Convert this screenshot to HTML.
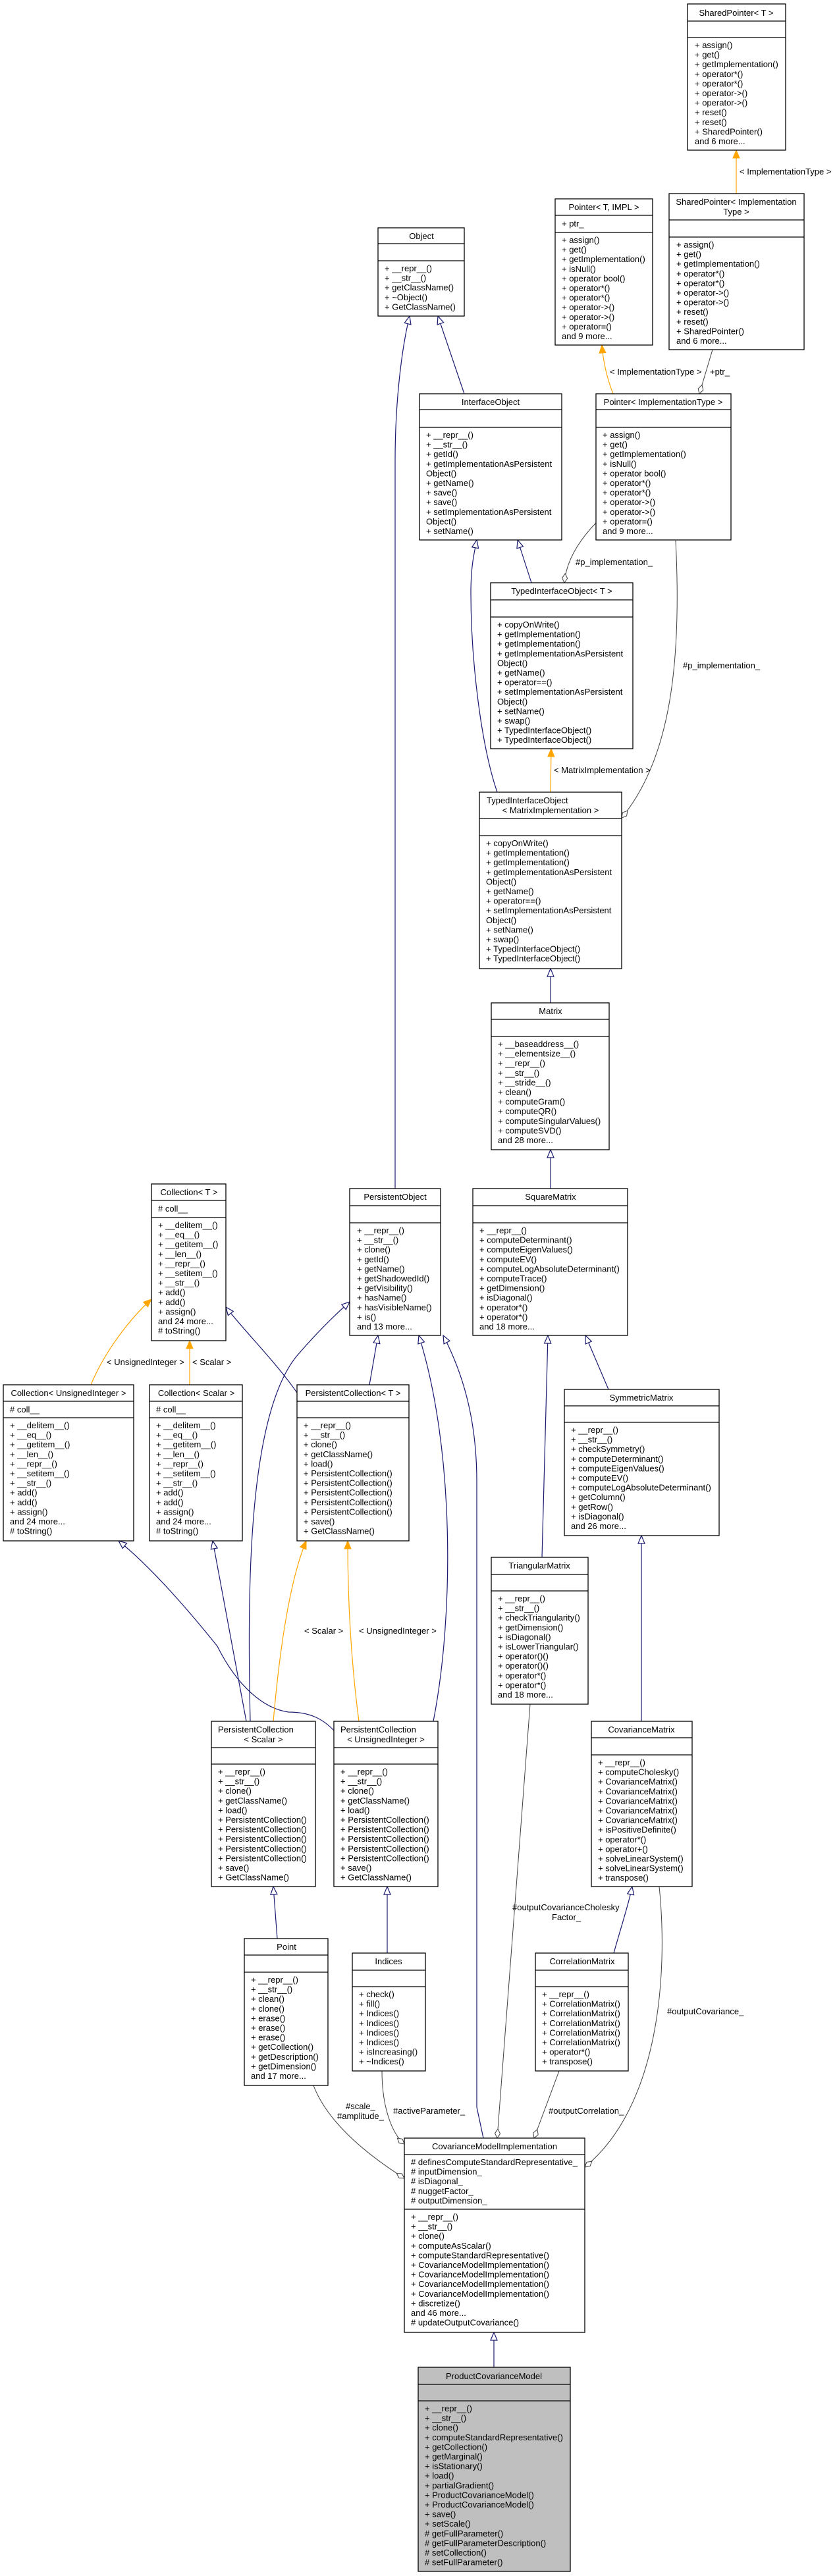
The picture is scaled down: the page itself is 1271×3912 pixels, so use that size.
<!DOCTYPE html>
<html><head><meta charset="utf-8"><style>
html,body{margin:0;padding:0;background:#fff;}
svg{display:block;}
text{font-family:"Liberation Sans",Arial,sans-serif;font-size:13px;fill:#000;}
.b{fill:#fff;stroke:#000;stroke-width:1.3;}
.g{fill:#bfbfbf;stroke:#000;stroke-width:1.3;}
.s{stroke:#000;stroke-width:1.3;}
.inh{fill:none;stroke:#191970;stroke-width:1.2;}
.tpl{fill:none;stroke:#ffa500;stroke-width:1.2;}
.asc{fill:none;stroke:#404040;stroke-width:1;}
.m{text-anchor:middle;}
</style></head><body>
<svg width="1271" height="3912" viewBox="0 0 1271 3912" xmlns="http://www.w3.org/2000/svg">
<defs>
<marker id="ti" markerUnits="userSpaceOnUse" markerWidth="14" markerHeight="12" refX="13" refY="6" orient="auto"><path d="M1,1 L13,6 L1,11 Z" fill="#fff" stroke="#191970" stroke-width="1.2"/></marker>
<marker id="to" markerUnits="userSpaceOnUse" markerWidth="14" markerHeight="12" refX="13" refY="6" orient="auto"><path d="M1,1 L13,6 L1,11 Z" fill="#ffa500" stroke="#ffa500" stroke-width="1"/></marker>
<marker id="di" markerUnits="userSpaceOnUse" markerWidth="16" markerHeight="10" refX="15" refY="5" orient="auto"><path d="M1,5 L8,1 L15,5 L8,9 Z" fill="#fff" stroke="#404040" stroke-width="1"/></marker>
</defs>

<!-- connectors: inheritance -->
<path class="inh" marker-end="url(#ti)" d="M705,598 L665,480"/>
<path class="inh" marker-end="url(#ti)" d="M600,1805 L600,700 C600,600 612,520 622,480"/>
<path class="inh" marker-end="url(#ti)" d="M807,885 L786,820"/>
<path class="inh" marker-end="url(#ti)" d="M755,1203 C730,1130 715,1000 715,900 C715,860 720,840 724,820"/>
<path class="inh" marker-end="url(#ti)" d="M836,1523 L836,1471"/>
<path class="inh" marker-end="url(#ti)" d="M836,1805 L836,1746"/>
<path class="inh" marker-end="url(#ti)" d="M823,2365 L832,2028"/>
<path class="inh" marker-end="url(#ti)" d="M924,2110 L889,2028"/>
<path class="inh" marker-end="url(#ti)" d="M974,2614 L974,2332"/>
<path class="inh" marker-end="url(#ti)" d="M932,2966 C945,2920 955,2890 960,2865"/>
<path class="inh" marker-end="url(#ti)" d="M451,2115 C420,2070 370,2020 343,1985"/>
<path class="inh" marker-end="url(#ti)" d="M561,2103 L574,2028"/>
<path class="inh" marker-end="url(#ti)" d="M380,2614 C375,2400 378,2150 450,2060 C480,2025 505,2000 531,1977"/>
<path class="inh" marker-end="url(#ti)" d="M374,2614 L323,2340"/>
<path class="inh" marker-end="url(#ti)" d="M507,2628 C490,2610 470,2600 438,2600 C400,2595 360,2560 330,2500 C290,2450 230,2380 180,2340"/>
<path class="inh" marker-end="url(#ti)" d="M658,2614 C690,2450 690,2200 636,2028"/>
<path class="inh" marker-end="url(#ti)" d="M734,3247 L724,3200 L724,2250 C724,2150 700,2080 673,2028"/>
<path class="inh" marker-end="url(#ti)" d="M421,2944 L415,2865"/>
<path class="inh" marker-end="url(#ti)" d="M588,2966 L588,2865"/>
<path class="inh" marker-end="url(#ti)" d="M750,3595 L750,3542"/>

<!-- connectors: template -->
<path class="tpl" marker-end="url(#to)" d="M1118,294 L1118,228"/>
<path class="tpl" marker-end="url(#to)" d="M931,598 C922,575 916,550 914,524"/>
<path class="tpl" marker-end="url(#to)" d="M836,1203 L837,1137"/>
<path class="tpl" marker-end="url(#to)" d="M138,2103 C160,2050 200,2000 230,1973"/>
<path class="tpl" marker-end="url(#to)" d="M288,2103 L288,2036"/>
<path class="tpl" marker-end="url(#to)" d="M415,2614 C425,2500 440,2400 465,2340"/>
<path class="tpl" marker-end="url(#to)" d="M545,2614 C530,2500 528,2400 528,2340"/>

<!-- connectors: association -->
<path class="asc" marker-end="url(#di)" d="M1082,531 L1062,598"/>
<path class="asc" marker-end="url(#di)" d="M905,794 C880,820 860,850 857,885"/>
<path class="asc" marker-end="url(#di)" d="M1026,821 C1035,1000 1020,1150 944,1242"/>
<path class="asc" marker-end="url(#di)" d="M805,2588 L755,3247"/>
<path class="asc" marker-end="url(#di)" d="M1001,2865 C1015,3000 1000,3200 888,3291"/>
<path class="asc" marker-end="url(#di)" d="M849,3145 L811,3247"/>
<path class="asc" marker-end="url(#di)" d="M580,3145 C580,3200 595,3240 614,3256"/>
<path class="asc" marker-end="url(#di)" d="M476,3167 C500,3230 570,3280 614,3308"/>

<!-- edge labels -->
<text x="1123" y="265">&lt; ImplementationType &gt;</text>
<text x="926" y="569">&lt; ImplementationType &gt;</text>
<text x="1078" y="569">+ptr_</text>
<text x="874" y="858">#p_implementation_</text>
<text x="1037" y="1015">#p_implementation_</text>
<text x="841" y="1174">&lt; MatrixImplementation &gt;</text>
<text x="162" y="2073">&lt; UnsignedInteger &gt;</text>
<text x="292" y="2073">&lt; Scalar &gt;</text>
<text x="462" y="2481">&lt; Scalar &gt;</text>
<text x="545" y="2481">&lt; UnsignedInteger &gt;</text>
<text x="778" y="2901">#outputCovarianceCholesky</text>
<text x="838" y="2916">Factor_</text>
<text x="1013" y="3059">#outputCovariance_</text>
<text x="833" y="3210">#outputCorrelation_</text>
<text x="597" y="3210">#activeParameter_</text>
<text x="525" y="3203">#scale_</text>
<text x="512" y="3218">#amplitude_</text>

<!-- SharedPointer<T> -->
<rect class="b" x="1044" y="6" width="149" height="222"/>
<line class="s" x1="1044" y1="32" x2="1193" y2="32"/><line class="s" x1="1044" y1="57" x2="1193" y2="57"/>
<text class="m" x="1118" y="24">SharedPointer&lt; T &gt;</text>
<text x="1055" y="73"><tspan x="1055">+ assign()</tspan><tspan x="1055" dy="14.6">+ get()</tspan><tspan x="1055" dy="14.6">+ getImplementation()</tspan><tspan x="1055" dy="14.6">+ operator*()</tspan><tspan x="1055" dy="14.6">+ operator*()</tspan><tspan x="1055" dy="14.6">+ operator-&gt;()</tspan><tspan x="1055" dy="14.6">+ operator-&gt;()</tspan><tspan x="1055" dy="14.6">+ reset()</tspan><tspan x="1055" dy="14.6">+ reset()</tspan><tspan x="1055" dy="14.6">+ SharedPointer()</tspan><tspan x="1055" dy="14.6">and 6 more...</tspan></text>

<!-- SharedPointer<ImplementationType> -->
<rect class="b" x="1016" y="294" width="205" height="237"/>
<line class="s" x1="1016" y1="334" x2="1221" y2="334"/><line class="s" x1="1016" y1="360" x2="1221" y2="360"/>
<text class="m" x="1118" y="311">SharedPointer&lt; Implementation</text>
<text class="m" x="1118" y="326">Type &gt;</text>
<text x="1027" y="376"><tspan x="1027">+ assign()</tspan><tspan x="1027" dy="14.6">+ get()</tspan><tspan x="1027" dy="14.6">+ getImplementation()</tspan><tspan x="1027" dy="14.6">+ operator*()</tspan><tspan x="1027" dy="14.6">+ operator*()</tspan><tspan x="1027" dy="14.6">+ operator-&gt;()</tspan><tspan x="1027" dy="14.6">+ operator-&gt;()</tspan><tspan x="1027" dy="14.6">+ reset()</tspan><tspan x="1027" dy="14.6">+ reset()</tspan><tspan x="1027" dy="14.6">+ SharedPointer()</tspan><tspan x="1027" dy="14.6">and 6 more...</tspan></text>

<!-- Pointer<T, IMPL> -->
<rect class="b" x="843" y="302" width="148" height="222"/>
<line class="s" x1="843" y1="327" x2="991" y2="327"/><line class="s" x1="843" y1="353" x2="991" y2="353"/>
<text class="m" x="917" y="319">Pointer&lt; T, IMPL &gt;</text>
<text x="853" y="344">+ ptr_</text>
<text x="853" y="369"><tspan x="853">+ assign()</tspan><tspan x="853" dy="14.6">+ get()</tspan><tspan x="853" dy="14.6">+ getImplementation()</tspan><tspan x="853" dy="14.6">+ isNull()</tspan><tspan x="853" dy="14.6">+ operator bool()</tspan><tspan x="853" dy="14.6">+ operator*()</tspan><tspan x="853" dy="14.6">+ operator*()</tspan><tspan x="853" dy="14.6">+ operator-&gt;()</tspan><tspan x="853" dy="14.6">+ operator-&gt;()</tspan><tspan x="853" dy="14.6">+ operator=()</tspan><tspan x="853" dy="14.6">and 9 more...</tspan></text>

<!-- Object -->
<rect class="b" x="574" y="346" width="131" height="134"/>
<line class="s" x1="574" y1="370" x2="705" y2="370"/><line class="s" x1="574" y1="396" x2="705" y2="396"/>
<text class="m" x="640" y="363">Object</text>
<text x="584" y="412"><tspan x="584">+ __repr__()</tspan><tspan x="584" dy="14.6">+ __str__()</tspan><tspan x="584" dy="14.6">+ getClassName()</tspan><tspan x="584" dy="14.6">+ ~Object()</tspan><tspan x="584" dy="14.6">+ GetClassName()</tspan></text>

<!-- InterfaceObject -->
<rect class="b" x="637" y="598" width="216" height="222"/>
<line class="s" x1="637" y1="622" x2="853" y2="622"/><line class="s" x1="637" y1="649" x2="853" y2="649"/>
<text class="m" x="745" y="615">InterfaceObject</text>
<text x="647" y="665"><tspan x="647">+ __repr__()</tspan><tspan x="647" dy="14.6">+ __str__()</tspan><tspan x="647" dy="14.6">+ getId()</tspan><tspan x="647" dy="14.6">+ getImplementationAsPersistent</tspan><tspan x="647" dy="14.6">Object()</tspan><tspan x="647" dy="14.6">+ getName()</tspan><tspan x="647" dy="14.6">+ save()</tspan><tspan x="647" dy="14.6">+ save()</tspan><tspan x="647" dy="14.6">+ setImplementationAsPersistent</tspan><tspan x="647" dy="14.6">Object()</tspan><tspan x="647" dy="14.6">+ setName()</tspan></text>

<!-- Pointer<ImplementationType> -->
<rect class="b" x="905" y="598" width="205" height="222"/>
<line class="s" x1="905" y1="622" x2="1110" y2="622"/><line class="s" x1="905" y1="649" x2="1110" y2="649"/>
<text class="m" x="1007" y="615">Pointer&lt; ImplementationType &gt;</text>
<text x="915" y="665"><tspan x="915">+ assign()</tspan><tspan x="915" dy="14.6">+ get()</tspan><tspan x="915" dy="14.6">+ getImplementation()</tspan><tspan x="915" dy="14.6">+ isNull()</tspan><tspan x="915" dy="14.6">+ operator bool()</tspan><tspan x="915" dy="14.6">+ operator*()</tspan><tspan x="915" dy="14.6">+ operator*()</tspan><tspan x="915" dy="14.6">+ operator-&gt;()</tspan><tspan x="915" dy="14.6">+ operator-&gt;()</tspan><tspan x="915" dy="14.6">+ operator=()</tspan><tspan x="915" dy="14.6">and 9 more...</tspan></text>

<!-- TypedInterfaceObject<T> -->
<rect class="b" x="745" y="885" width="216" height="252"/>
<line class="s" x1="745" y1="911" x2="961" y2="911"/><line class="s" x1="745" y1="937" x2="961" y2="937"/>
<text class="m" x="853" y="902">TypedInterfaceObject&lt; T &gt;</text>
<text x="755" y="953"><tspan x="755">+ copyOnWrite()</tspan><tspan x="755" dy="14.6">+ getImplementation()</tspan><tspan x="755" dy="14.6">+ getImplementation()</tspan><tspan x="755" dy="14.6">+ getImplementationAsPersistent</tspan><tspan x="755" dy="14.6">Object()</tspan><tspan x="755" dy="14.6">+ getName()</tspan><tspan x="755" dy="14.6">+ operator==()</tspan><tspan x="755" dy="14.6">+ setImplementationAsPersistent</tspan><tspan x="755" dy="14.6">Object()</tspan><tspan x="755" dy="14.6">+ setName()</tspan><tspan x="755" dy="14.6">+ swap()</tspan><tspan x="755" dy="14.6">+ TypedInterfaceObject()</tspan><tspan x="755" dy="14.6">+ TypedInterfaceObject()</tspan></text>

<!-- TypedInterfaceObject<MatrixImplementation> -->
<rect class="b" x="728" y="1203" width="216" height="268"/>
<line class="s" x1="728" y1="1243" x2="944" y2="1243"/><line class="s" x1="728" y1="1269" x2="944" y2="1269"/>
<text x="739" y="1220">TypedInterfaceObject</text>
<text class="m" x="836" y="1235">&lt; MatrixImplementation &gt;</text>
<text x="738" y="1285"><tspan x="738">+ copyOnWrite()</tspan><tspan x="738" dy="14.6">+ getImplementation()</tspan><tspan x="738" dy="14.6">+ getImplementation()</tspan><tspan x="738" dy="14.6">+ getImplementationAsPersistent</tspan><tspan x="738" dy="14.6">Object()</tspan><tspan x="738" dy="14.6">+ getName()</tspan><tspan x="738" dy="14.6">+ operator==()</tspan><tspan x="738" dy="14.6">+ setImplementationAsPersistent</tspan><tspan x="738" dy="14.6">Object()</tspan><tspan x="738" dy="14.6">+ setName()</tspan><tspan x="738" dy="14.6">+ swap()</tspan><tspan x="738" dy="14.6">+ TypedInterfaceObject()</tspan><tspan x="738" dy="14.6">+ TypedInterfaceObject()</tspan></text>

<!-- Matrix -->
<rect class="b" x="746" y="1523" width="179" height="223"/>
<line class="s" x1="746" y1="1548" x2="925" y2="1548"/><line class="s" x1="746" y1="1574" x2="925" y2="1574"/>
<text class="m" x="836" y="1540">Matrix</text>
<text x="756" y="1590"><tspan x="756">+ __baseaddress__()</tspan><tspan x="756" dy="14.6">+ __elementsize__()</tspan><tspan x="756" dy="14.6">+ __repr__()</tspan><tspan x="756" dy="14.6">+ __str__()</tspan><tspan x="756" dy="14.6">+ __stride__()</tspan><tspan x="756" dy="14.6">+ clean()</tspan><tspan x="756" dy="14.6">+ computeGram()</tspan><tspan x="756" dy="14.6">+ computeQR()</tspan><tspan x="756" dy="14.6">+ computeSingularValues()</tspan><tspan x="756" dy="14.6">+ computeSVD()</tspan><tspan x="756" dy="14.6">and 28 more...</tspan></text>

<!-- SquareMatrix -->
<rect class="b" x="718" y="1805" width="235" height="223"/>
<line class="s" x1="718" y1="1831" x2="953" y2="1831"/><line class="s" x1="718" y1="1857" x2="953" y2="1857"/>
<text class="m" x="836" y="1822">SquareMatrix</text>
<text x="728" y="1873"><tspan x="728">+ __repr__()</tspan><tspan x="728" dy="14.6">+ computeDeterminant()</tspan><tspan x="728" dy="14.6">+ computeEigenValues()</tspan><tspan x="728" dy="14.6">+ computeEV()</tspan><tspan x="728" dy="14.6">+ computeLogAbsoluteDeterminant()</tspan><tspan x="728" dy="14.6">+ computeTrace()</tspan><tspan x="728" dy="14.6">+ getDimension()</tspan><tspan x="728" dy="14.6">+ isDiagonal()</tspan><tspan x="728" dy="14.6">+ operator*()</tspan><tspan x="728" dy="14.6">+ operator*()</tspan><tspan x="728" dy="14.6">and 18 more...</tspan></text>

<!-- PersistentObject -->
<rect class="b" x="531" y="1805" width="138" height="223"/>
<line class="s" x1="531" y1="1831" x2="669" y2="1831"/><line class="s" x1="531" y1="1857" x2="669" y2="1857"/>
<text class="m" x="600" y="1822">PersistentObject</text>
<text x="542" y="1873"><tspan x="542">+ __repr__()</tspan><tspan x="542" dy="14.6">+ __str__()</tspan><tspan x="542" dy="14.6">+ clone()</tspan><tspan x="542" dy="14.6">+ getId()</tspan><tspan x="542" dy="14.6">+ getName()</tspan><tspan x="542" dy="14.6">+ getShadowedId()</tspan><tspan x="542" dy="14.6">+ getVisibility()</tspan><tspan x="542" dy="14.6">+ hasName()</tspan><tspan x="542" dy="14.6">+ hasVisibleName()</tspan><tspan x="542" dy="14.6">+ is()</tspan><tspan x="542" dy="14.6">and 13 more...</tspan></text>

<!-- Collection<T> -->
<rect class="b" x="230" y="1798" width="113" height="238"/>
<line class="s" x1="230" y1="1823" x2="343" y2="1823"/><line class="s" x1="230" y1="1849" x2="343" y2="1849"/>
<text class="m" x="287" y="1815">Collection&lt; T &gt;</text>
<text x="240" y="1840"># coll__</text>
<text x="240" y="1865"><tspan x="240">+ __delitem__()</tspan><tspan x="240" dy="14.6">+ __eq__()</tspan><tspan x="240" dy="14.6">+ __getitem__()</tspan><tspan x="240" dy="14.6">+ __len__()</tspan><tspan x="240" dy="14.6">+ __repr__()</tspan><tspan x="240" dy="14.6">+ __setitem__()</tspan><tspan x="240" dy="14.6">+ __str__()</tspan><tspan x="240" dy="14.6">+ add()</tspan><tspan x="240" dy="14.6">+ add()</tspan><tspan x="240" dy="14.6">+ assign()</tspan><tspan x="240" dy="14.6">and 24 more...</tspan><tspan x="240" dy="14.6"># toString()</tspan></text>

<!-- Collection<UnsignedInteger> -->
<rect class="b" x="5" y="2103" width="198" height="237"/>
<line class="s" x1="5" y1="2128" x2="203" y2="2128"/><line class="s" x1="5" y1="2153" x2="203" y2="2153"/>
<text class="m" x="104" y="2120">Collection&lt; UnsignedInteger &gt;</text>
<text x="15" y="2145"># coll__</text>
<text x="15" y="2169"><tspan x="15">+ __delitem__()</tspan><tspan x="15" dy="14.6">+ __eq__()</tspan><tspan x="15" dy="14.6">+ __getitem__()</tspan><tspan x="15" dy="14.6">+ __len__()</tspan><tspan x="15" dy="14.6">+ __repr__()</tspan><tspan x="15" dy="14.6">+ __setitem__()</tspan><tspan x="15" dy="14.6">+ __str__()</tspan><tspan x="15" dy="14.6">+ add()</tspan><tspan x="15" dy="14.6">+ add()</tspan><tspan x="15" dy="14.6">+ assign()</tspan><tspan x="15" dy="14.6">and 24 more...</tspan><tspan x="15" dy="14.6"># toString()</tspan></text>

<!-- Collection<Scalar> -->
<rect class="b" x="227" y="2103" width="141" height="237"/>
<line class="s" x1="227" y1="2128" x2="368" y2="2128"/><line class="s" x1="227" y1="2153" x2="368" y2="2153"/>
<text class="m" x="298" y="2120">Collection&lt; Scalar &gt;</text>
<text x="237" y="2145"># coll__</text>
<text x="237" y="2169"><tspan x="237">+ __delitem__()</tspan><tspan x="237" dy="14.6">+ __eq__()</tspan><tspan x="237" dy="14.6">+ __getitem__()</tspan><tspan x="237" dy="14.6">+ __len__()</tspan><tspan x="237" dy="14.6">+ __repr__()</tspan><tspan x="237" dy="14.6">+ __setitem__()</tspan><tspan x="237" dy="14.6">+ __str__()</tspan><tspan x="237" dy="14.6">+ add()</tspan><tspan x="237" dy="14.6">+ add()</tspan><tspan x="237" dy="14.6">+ assign()</tspan><tspan x="237" dy="14.6">and 24 more...</tspan><tspan x="237" dy="14.6"># toString()</tspan></text>

<!-- PersistentCollection<T> -->
<rect class="b" x="451" y="2103" width="170" height="237"/>
<line class="s" x1="451" y1="2128" x2="621" y2="2128"/><line class="s" x1="451" y1="2153" x2="621" y2="2153"/>
<text class="m" x="536" y="2120">PersistentCollection&lt; T &gt;</text>
<text x="461" y="2169"><tspan x="461">+ __repr__()</tspan><tspan x="461" dy="14.6">+ __str__()</tspan><tspan x="461" dy="14.6">+ clone()</tspan><tspan x="461" dy="14.6">+ getClassName()</tspan><tspan x="461" dy="14.6">+ load()</tspan><tspan x="461" dy="14.6">+ PersistentCollection()</tspan><tspan x="461" dy="14.6">+ PersistentCollection()</tspan><tspan x="461" dy="14.6">+ PersistentCollection()</tspan><tspan x="461" dy="14.6">+ PersistentCollection()</tspan><tspan x="461" dy="14.6">+ PersistentCollection()</tspan><tspan x="461" dy="14.6">+ save()</tspan><tspan x="461" dy="14.6">+ GetClassName()</tspan></text>

<!-- SymmetricMatrix -->
<rect class="b" x="857" y="2110" width="235" height="222"/>
<line class="s" x1="857" y1="2135" x2="1092" y2="2135"/><line class="s" x1="857" y1="2160" x2="1092" y2="2160"/>
<text class="m" x="974" y="2127">SymmetricMatrix</text>
<text x="867" y="2176"><tspan x="867">+ __repr__()</tspan><tspan x="867" dy="14.6">+ __str__()</tspan><tspan x="867" dy="14.6">+ checkSymmetry()</tspan><tspan x="867" dy="14.6">+ computeDeterminant()</tspan><tspan x="867" dy="14.6">+ computeEigenValues()</tspan><tspan x="867" dy="14.6">+ computeEV()</tspan><tspan x="867" dy="14.6">+ computeLogAbsoluteDeterminant()</tspan><tspan x="867" dy="14.6">+ getColumn()</tspan><tspan x="867" dy="14.6">+ getRow()</tspan><tspan x="867" dy="14.6">+ isDiagonal()</tspan><tspan x="867" dy="14.6">and 26 more...</tspan></text>

<!-- TriangularMatrix -->
<rect class="b" x="746" y="2365" width="147" height="223"/>
<line class="s" x1="746" y1="2391" x2="893" y2="2391"/><line class="s" x1="746" y1="2416" x2="893" y2="2416"/>
<text class="m" x="819" y="2382">TriangularMatrix</text>
<text x="756" y="2432"><tspan x="756">+ __repr__()</tspan><tspan x="756" dy="14.6">+ __str__()</tspan><tspan x="756" dy="14.6">+ checkTriangularity()</tspan><tspan x="756" dy="14.6">+ getDimension()</tspan><tspan x="756" dy="14.6">+ isDiagonal()</tspan><tspan x="756" dy="14.6">+ isLowerTriangular()</tspan><tspan x="756" dy="14.6">+ operator()()</tspan><tspan x="756" dy="14.6">+ operator()()</tspan><tspan x="756" dy="14.6">+ operator*()</tspan><tspan x="756" dy="14.6">+ operator*()</tspan><tspan x="756" dy="14.6">and 18 more...</tspan></text>

<!-- PersistentCollection<Scalar> -->
<rect class="b" x="321" y="2614" width="158" height="251"/>
<line class="s" x1="321" y1="2654" x2="479" y2="2654"/><line class="s" x1="321" y1="2679" x2="479" y2="2679"/>
<text x="331" y="2631">PersistentCollection</text>
<text class="m" x="400" y="2646">&lt; Scalar &gt;</text>
<text x="331" y="2695"><tspan x="331">+ __repr__()</tspan><tspan x="331" dy="14.6">+ __str__()</tspan><tspan x="331" dy="14.6">+ clone()</tspan><tspan x="331" dy="14.6">+ getClassName()</tspan><tspan x="331" dy="14.6">+ load()</tspan><tspan x="331" dy="14.6">+ PersistentCollection()</tspan><tspan x="331" dy="14.6">+ PersistentCollection()</tspan><tspan x="331" dy="14.6">+ PersistentCollection()</tspan><tspan x="331" dy="14.6">+ PersistentCollection()</tspan><tspan x="331" dy="14.6">+ PersistentCollection()</tspan><tspan x="331" dy="14.6">+ save()</tspan><tspan x="331" dy="14.6">+ GetClassName()</tspan></text>

<!-- PersistentCollection<UnsignedInteger> -->
<rect class="b" x="507" y="2614" width="158" height="251"/>
<line class="s" x1="507" y1="2654" x2="665" y2="2654"/><line class="s" x1="507" y1="2679" x2="665" y2="2679"/>
<text x="517" y="2631">PersistentCollection</text>
<text class="m" x="586" y="2646">&lt; UnsignedInteger &gt;</text>
<text x="517" y="2695"><tspan x="517">+ __repr__()</tspan><tspan x="517" dy="14.6">+ __str__()</tspan><tspan x="517" dy="14.6">+ clone()</tspan><tspan x="517" dy="14.6">+ getClassName()</tspan><tspan x="517" dy="14.6">+ load()</tspan><tspan x="517" dy="14.6">+ PersistentCollection()</tspan><tspan x="517" dy="14.6">+ PersistentCollection()</tspan><tspan x="517" dy="14.6">+ PersistentCollection()</tspan><tspan x="517" dy="14.6">+ PersistentCollection()</tspan><tspan x="517" dy="14.6">+ PersistentCollection()</tspan><tspan x="517" dy="14.6">+ save()</tspan><tspan x="517" dy="14.6">+ GetClassName()</tspan></text>

<!-- CovarianceMatrix -->
<rect class="b" x="898" y="2614" width="153" height="251"/>
<line class="s" x1="898" y1="2639" x2="1051" y2="2639"/><line class="s" x1="898" y1="2665" x2="1051" y2="2665"/>
<text class="m" x="974" y="2631">CovarianceMatrix</text>
<text x="908" y="2681"><tspan x="908">+ __repr__()</tspan><tspan x="908" dy="14.6">+ computeCholesky()</tspan><tspan x="908" dy="14.6">+ CovarianceMatrix()</tspan><tspan x="908" dy="14.6">+ CovarianceMatrix()</tspan><tspan x="908" dy="14.6">+ CovarianceMatrix()</tspan><tspan x="908" dy="14.6">+ CovarianceMatrix()</tspan><tspan x="908" dy="14.6">+ CovarianceMatrix()</tspan><tspan x="908" dy="14.6">+ isPositiveDefinite()</tspan><tspan x="908" dy="14.6">+ operator*()</tspan><tspan x="908" dy="14.6">+ operator+()</tspan><tspan x="908" dy="14.6">+ solveLinearSystem()</tspan><tspan x="908" dy="14.6">+ solveLinearSystem()</tspan><tspan x="908" dy="14.6">+ transpose()</tspan></text>

<!-- Point -->
<rect class="b" x="371" y="2944" width="127" height="223"/>
<line class="s" x1="371" y1="2969" x2="498" y2="2969"/><line class="s" x1="371" y1="2995" x2="498" y2="2995"/>
<text class="m" x="435" y="2961">Point</text>
<text x="381" y="3011"><tspan x="381">+ __repr__()</tspan><tspan x="381" dy="14.6">+ __str__()</tspan><tspan x="381" dy="14.6">+ clean()</tspan><tspan x="381" dy="14.6">+ clone()</tspan><tspan x="381" dy="14.6">+ erase()</tspan><tspan x="381" dy="14.6">+ erase()</tspan><tspan x="381" dy="14.6">+ erase()</tspan><tspan x="381" dy="14.6">+ getCollection()</tspan><tspan x="381" dy="14.6">+ getDescription()</tspan><tspan x="381" dy="14.6">+ getDimension()</tspan><tspan x="381" dy="14.6">and 17 more...</tspan></text>

<!-- Indices -->
<rect class="b" x="535" y="2966" width="111" height="179"/>
<line class="s" x1="535" y1="2992" x2="646" y2="2992"/><line class="s" x1="535" y1="3017" x2="646" y2="3017"/>
<text class="m" x="590" y="2983">Indices</text>
<text x="545" y="3033"><tspan x="545">+ check()</tspan><tspan x="545" dy="14.6">+ fill()</tspan><tspan x="545" dy="14.6">+ Indices()</tspan><tspan x="545" dy="14.6">+ Indices()</tspan><tspan x="545" dy="14.6">+ Indices()</tspan><tspan x="545" dy="14.6">+ Indices()</tspan><tspan x="545" dy="14.6">+ isIncreasing()</tspan><tspan x="545" dy="14.6">+ ~Indices()</tspan></text>

<!-- CorrelationMatrix -->
<rect class="b" x="813" y="2966" width="141" height="179"/>
<line class="s" x1="813" y1="2992" x2="954" y2="2992"/><line class="s" x1="813" y1="3017" x2="954" y2="3017"/>
<text class="m" x="884" y="2983">CorrelationMatrix</text>
<text x="823" y="3033"><tspan x="823">+ __repr__()</tspan><tspan x="823" dy="14.6">+ CorrelationMatrix()</tspan><tspan x="823" dy="14.6">+ CorrelationMatrix()</tspan><tspan x="823" dy="14.6">+ CorrelationMatrix()</tspan><tspan x="823" dy="14.6">+ CorrelationMatrix()</tspan><tspan x="823" dy="14.6">+ CorrelationMatrix()</tspan><tspan x="823" dy="14.6">+ operator*()</tspan><tspan x="823" dy="14.6">+ transpose()</tspan></text>

<!-- CovarianceModelImplementation -->
<rect class="b" x="614" y="3247" width="274" height="295"/>
<line class="s" x1="614" y1="3272" x2="888" y2="3272"/><line class="s" x1="614" y1="3355" x2="888" y2="3355"/>
<text class="m" x="751" y="3264">CovarianceModelImplementation</text>
<text x="624" y="3288"><tspan x="624"># definesComputeStandardRepresentative_</tspan><tspan x="624" dy="14.6"># inputDimension_</tspan><tspan x="624" dy="14.6"># isDiagonal_</tspan><tspan x="624" dy="14.6"># nuggetFactor_</tspan><tspan x="624" dy="14.6"># outputDimension_</tspan></text>
<text x="624" y="3371"><tspan x="624">+ __repr__()</tspan><tspan x="624" dy="14.6">+ __str__()</tspan><tspan x="624" dy="14.6">+ clone()</tspan><tspan x="624" dy="14.6">+ computeAsScalar()</tspan><tspan x="624" dy="14.6">+ computeStandardRepresentative()</tspan><tspan x="624" dy="14.6">+ CovarianceModelImplementation()</tspan><tspan x="624" dy="14.6">+ CovarianceModelImplementation()</tspan><tspan x="624" dy="14.6">+ CovarianceModelImplementation()</tspan><tspan x="624" dy="14.6">+ CovarianceModelImplementation()</tspan><tspan x="624" dy="14.6">+ discretize()</tspan><tspan x="624" dy="14.6">and 46 more...</tspan><tspan x="624" dy="14.6"># updateOutputCovariance()</tspan></text>

<!-- ProductCovarianceModel -->
<rect class="g" x="635" y="3595" width="231" height="310"/>
<line class="s" x1="635" y1="3621" x2="866" y2="3621"/><line class="s" x1="635" y1="3646" x2="866" y2="3646"/>
<text class="m" x="750" y="3613">ProductCovarianceModel</text>
<text x="645" y="3662"><tspan x="645">+ __repr__()</tspan><tspan x="645" dy="14.6">+ __str__()</tspan><tspan x="645" dy="14.6">+ clone()</tspan><tspan x="645" dy="14.6">+ computeStandardRepresentative()</tspan><tspan x="645" dy="14.6">+ getCollection()</tspan><tspan x="645" dy="14.6">+ getMarginal()</tspan><tspan x="645" dy="14.6">+ isStationary()</tspan><tspan x="645" dy="14.6">+ load()</tspan><tspan x="645" dy="14.6">+ partialGradient()</tspan><tspan x="645" dy="14.6">+ ProductCovarianceModel()</tspan><tspan x="645" dy="14.6">+ ProductCovarianceModel()</tspan><tspan x="645" dy="14.6">+ save()</tspan><tspan x="645" dy="14.6">+ setScale()</tspan><tspan x="645" dy="14.6"># getFullParameter()</tspan><tspan x="645" dy="14.6"># getFullParameterDescription()</tspan><tspan x="645" dy="14.6"># setCollection()</tspan><tspan x="645" dy="14.6"># setFullParameter()</tspan></text>
</svg>
</body></html>
